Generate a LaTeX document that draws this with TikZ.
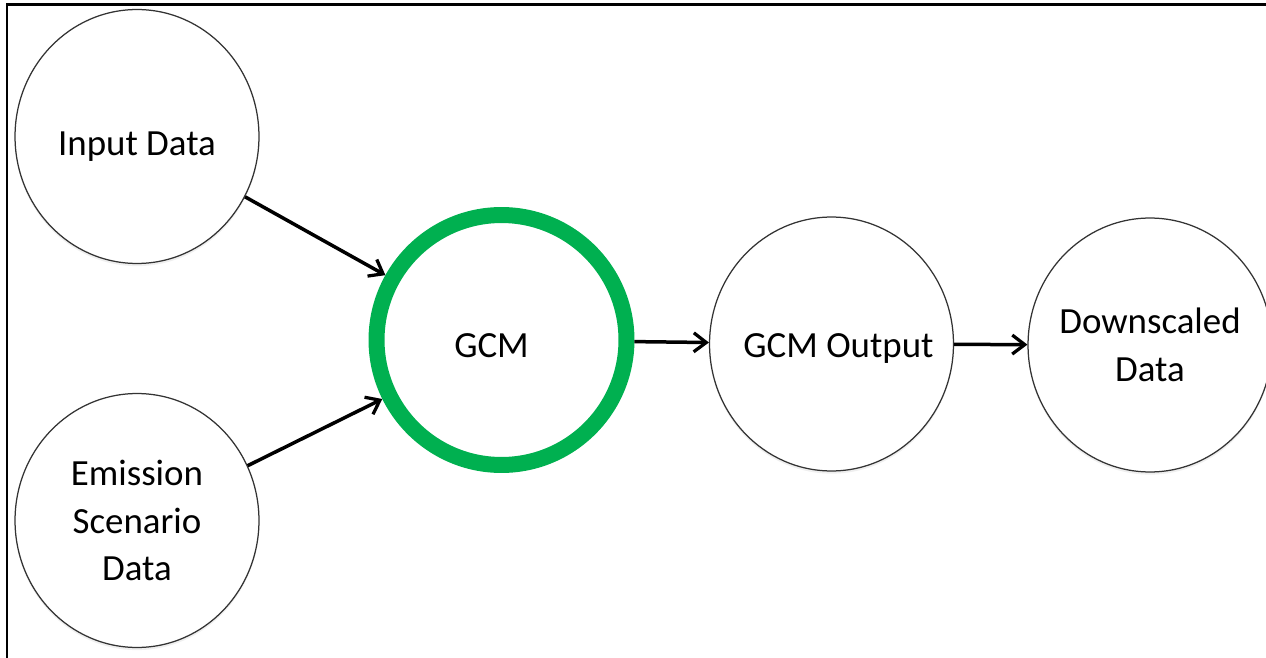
\documentclass[tikz,border=0pt]{standalone}
\usepackage{fontspec}
\setmainfont{Carlito}
\usetikzlibrary{arrows.meta,shapes.geometric,shadows}
\definecolor{gcmgreen}{RGB}{0,176,80}
\newcommand{\lowerby}[2]{\raisebox{-#1}[\height][\depth]{#2}}
\begin{document}
\begin{tikzpicture}[x=0.02cm,y=-0.02cm,
  lbl/.style={font=\fontsize{21pt}{27pt}\selectfont, align=center, text=black},
  bubble/.style={ellipse, draw=black!80, line width=0.025cm, fill=white,
    minimum width=4.88cm, minimum height=5.08cm, inner xsep=-2cm, inner ysep=-1cm,
    drop shadow={opacity=0.12, shadow xshift=0pt, shadow yshift=-1.5pt}, lbl},
  gcmring/.style={circle, draw=gcmgreen, line width=0.32cm, fill=white,
    minimum size=5cm, inner sep=-1cm, lbl},
  conn/.style={line width=0.07cm, -{Straight Barb[length=0.25cm, width=0.38cm, line width=0.065cm]}}
]
\useasboundingbox (0,0) rectangle (1266,658);
\fill[white] (0,0) rectangle (1266,658);
\draw[line width=0.06cm] (7,670) -- (7,5) -- (1275,5);

\node[bubble] (in) at (137,136.5) {\lowerby{0.2cm}{Input Data}};
\node[bubble] (em) at (137,520.5) {Emission\\Scenario\\Data};
\node[gcmring] (gcm) at (501.5,340) {\hspace*{-0.4cm}\lowerby{0.12cm}{GCM}};
\node[bubble] (out) at (831.5,344) {\hspace*{0.28cm}\lowerby{0.08cm}{GCM Output}};
\node[bubble] (down) at (1150,345) {Downscaled\\Data};

\draw[conn] (in) -- (gcm);
\draw[conn] (em) -- (gcm);
\draw[conn] (gcm) -- (out);
\draw[conn] (out) -- (down);
\end{tikzpicture}
\end{document}
